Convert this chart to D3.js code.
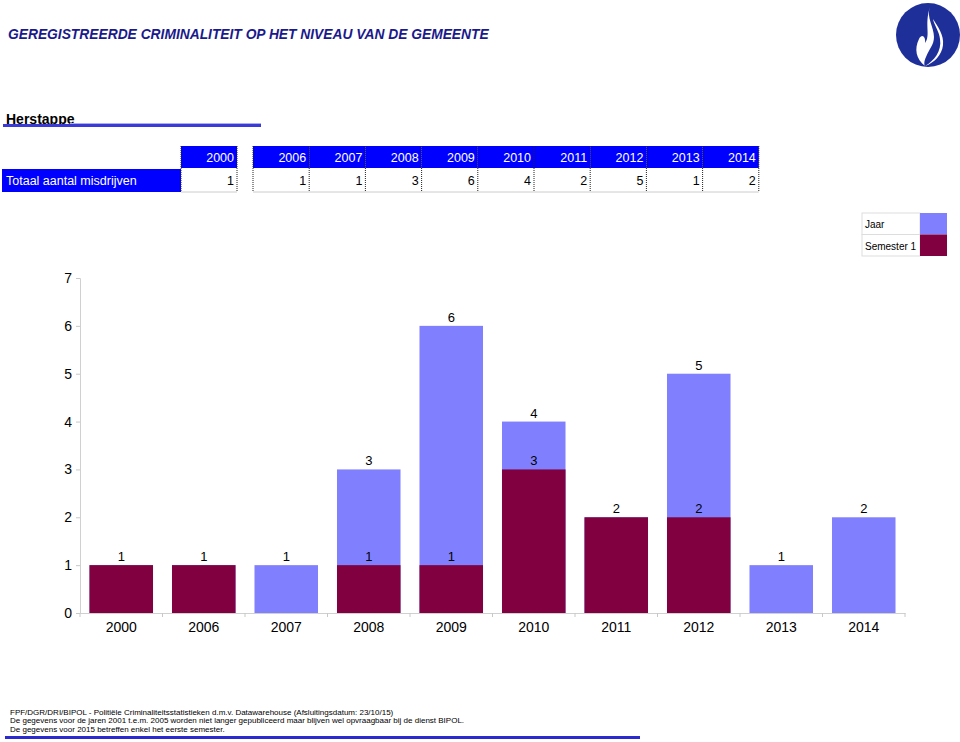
<!DOCTYPE html>
<html>
<head>
<meta charset="utf-8">
<script src="https://cdn.jsdelivr.net/npm/d3@7"></script>
<style>
  html, body { margin: 0; padding: 0; background: #fff; }
  svg { display: block; font-family: "Liberation Sans", Arial, sans-serif; }
</style>
</head>
<body>
<svg id="chart" width="960" height="742"></svg>
<script>
// ---- Data ----
const years = ["2000", "2006", "2007", "2008", "2009", "2010", "2011", "2012", "2013", "2014"];
const jaar = [1, 1, 1, 3, 6, 4, 2, 5, 1, 2];
const semester1 = [1, 1, 0, 1, 1, 3, 2, 2, 0, 0];
const totals = [1, 1, 1, 3, 6, 4, 2, 5, 1, 2];
const yTicks = [0, 1, 2, 3, 4, 5, 6, 7];
const seriesNames = ["Jaar", "Semester 1"];
const titleText = "GEREGISTREERDE CRIMINALITEIT OP HET NIVEAU VAN DE GEMEENTE";
const gemeente = "Herstappe";
const rowLabel = "Totaal aantal misdrijven";
const footerLines = [
  "FPF/DGR/DRI/BIPOL - Politiële Criminaliteitsstatistieken d.m.v. Datawarehouse (Afsluitingsdatum: 23/10/15)",
  "De gegevens voor de jaren 2001 t.e.m. 2005 worden niet langer gepubliceerd maar blijven wel opvraagbaar bij de dienst BIPOL.",
  "De gegevens voor 2015 betreffen enkel het eerste semester."
];

const colJaar = "#8080ff";
const colSem = "#800040";
const navy = "#1a1a8c";
const tableBlue = "#0000ff";

const svg = d3.select("#chart");

// ---- Title ----
svg.append("text").attr("x", 8).attr("y", 39)
  .attr("font-size", 13.8).attr("font-weight", "bold").attr("font-style", "italic")
  .attr("fill", navy).text(titleText);

// ---- Logo ----
const logo = svg.append("g").attr("transform", "translate(928,35)");
logo.append("circle").attr("r", 32).attr("fill", "#1f2f9a");
logo.append("path").attr("fill", "#fff")
  .attr("d", "M2,-28 C-2,-18 6,-8 6,2 C6,10 1,14 -2,22 C-4,26 -4,30 -3,31 C-12,24 -14,14 -9,4 C-6,-2 -2,2 -3,8 C3,0 -4,-10 2,-28 Z M-3,31 C6,26 14,16 12,4 C11,-4 6,-10 5,-16 C10,-8 16,0 15,10 C14,20 6,28 -3,31 Z");

// ---- Gemeente header ----
svg.append("text").attr("x", 6).attr("y", 124)
  .attr("font-size", 14).attr("font-weight", "bold").attr("fill", "#000").text(gemeente);
svg.append("rect").attr("x", 3).attr("y", 124).attr("width", 258).attr("height", 3).attr("fill", "#3a3ad8");
svg.append("rect").attr("x", 70).attr("y", 123).attr("width", 191).attr("height", 1).attr("fill", "#aab0ee");

// ---- Table ----
const hdrY = 146, hdrH = 22, rowY = 169, rowH = 23;
const cellX = [181];
const grpStart = 253, grpW = 56.2;
for (let i = 0; i < 9; i++) cellX.push(grpStart + i * grpW);
const cellW = [56].concat(d3.range(9).map(() => grpW));
const tbl = svg.append("g");
tbl.selectAll("rect.h").data(years).join("rect")
  .attr("x", (d, i) => cellX[i]).attr("y", hdrY)
  .attr("width", (d, i) => cellW[i]).attr("height", hdrH).attr("fill", tableBlue);
tbl.selectAll("text.h").data(years).join("text")
  .attr("x", (d, i) => cellX[i] + cellW[i] - 3).attr("y", hdrY + 16)
  .attr("text-anchor", "end").attr("font-size", 12.5).attr("fill", "#fff").text(d => d);
tbl.append("rect").attr("x", 2).attr("y", rowY).attr("width", 179).attr("height", rowH).attr("fill", tableBlue);
tbl.append("text").attr("x", 6).attr("y", rowY + 16).attr("font-size", 12.5).attr("fill", "#fff").text(rowLabel);
tbl.selectAll("text.v").data(totals).join("text")
  .attr("x", (d, i) => cellX[i] + cellW[i] - 3).attr("y", rowY + 16)
  .attr("text-anchor", "end").attr("font-size", 12.5).attr("fill", "#000").text(d => d);
const borderXs = [181, 237].concat(d3.range(10).map(i => grpStart + i * grpW));
tbl.selectAll("line.b").data(borderXs).join("line")
  .attr("x1", d => d).attr("x2", d => d).attr("y1", hdrY).attr("y2", rowY + rowH)
  .attr("stroke", "#222").attr("stroke-width", 1).attr("stroke-dasharray", "1,1");
tbl.append("line").attr("x1", 181).attr("x2", 237).attr("y1", rowY + rowH).attr("y2", rowY + rowH)
  .attr("stroke", "#ccc");
tbl.append("line").attr("x1", grpStart).attr("x2", grpStart + 9 * grpW).attr("y1", rowY + rowH).attr("y2", rowY + rowH)
  .attr("stroke", "#ccc");

// ---- Legend ----
const lg = svg.append("g").attr("transform", "translate(862,213)");
const legCols = [colJaar, colSem];
seriesNames.forEach((n, i) => {
  lg.append("rect").attr("x", 0).attr("y", i * 21.5).attr("width", 58).attr("height", 21.5)
    .attr("fill", "#fff").attr("stroke", "#ddd");
  lg.append("rect").attr("x", 58).attr("y", i * 21.5).attr("width", 27).attr("height", 21.5)
    .attr("fill", legCols[i]);
  lg.append("text").attr("x", 3).attr("y", i * 21.5 + 15).attr("font-size", 10).attr("fill", "#000").text(n);
});

// ---- Chart ----
const x0 = 80, x1 = 905, yBottom = 613, yTop = 278;
const x = d3.scaleBand().domain(years).range([x0, x1]).paddingInner(0.23).paddingOuter(0.115);
const y = d3.scaleLinear().domain([0, 7]).range([yBottom, yTop]);

const yAxis = d3.axisLeft(y).tickValues(yTicks).tickSize(4).tickPadding(4).tickFormat(d3.format("d"));
const gy = svg.append("g").attr("transform", `translate(${x0},0)`).call(yAxis);
gy.select(".domain").attr("stroke", "#d0d0d0");
gy.selectAll(".tick line").attr("stroke", "#c8c8c8");
gy.selectAll(".tick text").attr("font-size", 14).attr("fill", "#000").attr("font-family", "Liberation Sans, Arial, sans-serif");

const xAxis = d3.axisBottom(x).tickSize(0).tickPadding(9);
const gx = svg.append("g").attr("transform", `translate(0,${yBottom})`).call(xAxis);
gx.select(".domain").attr("stroke", "#d0d0d0");
gx.selectAll(".tick text").attr("font-size", 14).attr("fill", "#000").attr("font-family", "Liberation Sans, Arial, sans-serif");
const sepXs = years.map((d, i) => x0 + i * x.step()).concat([x1]);
gx.selectAll("line.sep").data(sepXs).join("line")
  .attr("x1", d => d).attr("x2", d => d).attr("y1", 0).attr("y2", 4).attr("stroke", "#c8c8c8");

const bars = svg.append("g");
bars.selectAll("rect.jaar").data(years).join("rect")
  .attr("x", d => x(d)).attr("width", x.bandwidth())
  .attr("y", (d, i) => y(jaar[i])).attr("height", (d, i) => y(0) - y(jaar[i]))
  .attr("fill", colJaar);
bars.selectAll("rect.sem").data(years.filter((d, i) => semester1[i] > 0)).join("rect")
  .attr("x", d => x(d)).attr("width", x.bandwidth())
  .attr("y", d => y(semester1[years.indexOf(d)]))
  .attr("height", d => y(0) - y(semester1[years.indexOf(d)]))
  .attr("fill", colSem);

const labels = [];
years.forEach((d, i) => {
  labels.push({ yr: d, v: jaar[i] });
  if (semester1[i] > 0 && semester1[i] !== jaar[i]) labels.push({ yr: d, v: semester1[i] });
});
bars.selectAll("text.lab").data(labels).join("text")
  .attr("x", d => x(d.yr) + x.bandwidth() / 2).attr("y", d => y(d.v) - 4)
  .attr("text-anchor", "middle").attr("font-size", 13).attr("fill", "#000").text(d => d.v);

// ---- Footer ----
svg.selectAll("text.foot").data(footerLines).join("text")
  .attr("x", 10).attr("y", (d, i) => 714.5 + i * 8.6)
  .attr("font-size", 8.0).attr("fill", "#000").text(d => d);
svg.append("rect").attr("x", 5).attr("y", 736).attr("width", 635).attr("height", 3).attr("fill", "#2a2ad0");
</script>
</body>
</html>
